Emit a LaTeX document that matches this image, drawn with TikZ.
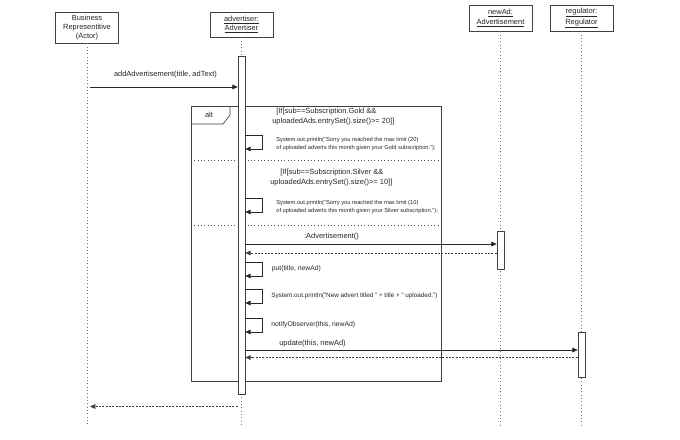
\documentclass[tikz,border=0pt]{standalone}
\usepackage{fontspec}
\setmainfont{Liberation Sans}
\usetikzlibrary{arrows.meta}
\begin{document}
\begin{tikzpicture}[x=0.75pt,y=-0.75pt,line width=0.5pt,
  >={Triangle[length=4pt,width=3.5pt]},
  head/.style={draw=black!75,fill=white,minimum width=47pt,inner sep=0pt,align=center,
    font=\fontsize{5.6}{7}\selectfont,text=black!85},
  activation/.style={draw=black!75,fill=white,minimum width=5.25pt,inner sep=0pt},
  lifeline/.style={draw=black!55,dotted},
  msg/.style={draw=black!85,->},
  ret/.style={draw=black!75,dash pattern=on 1.5pt off 1pt,->},
  lbl/.style={font=\fontsize{5.6}{7}\selectfont,text=black!85,inner sep=0pt},
  callnote/.style={font=\fontsize{5.1}{6}\selectfont,text=black!85,inner sep=0pt,anchor=west},
  tinynote/.style={font=\fontsize{4.3}{6}\selectfont,text=black!85,inner sep=0pt,anchor=west}]
  \useasboundingbox (0,0) rectangle (680,439);

  % lifeline heads
  \node[head,minimum height=23.25pt] (bizrep) at (87,27.5) {Business\\Representitive\\(Actor)};
  \node[head,minimum height=18.75pt] (advertiser) at (241.5,24.5) {\underline{advertiser:}\\\underline{Advertiser}};
  \node[head,minimum height=19.5pt] (newad) at (500.5,18) {\underline{newAd:}\\\underline{Advertisement}};
  \node[head,minimum height=19.5pt] (regulator) at (581.5,18) {\underline{regulator:}\\\underline{Regulator}};

  \draw[lifeline] (bizrep.south) -- ++(0,382);
  \draw[lifeline] (advertiser.south) -- ++(0,388);
  \draw[lifeline] (newad.south) -- ++(0,394);
  \draw[lifeline] (regulator.south) -- ++(0,394);

  % alt frame
  \coordinate (altNW) at (191,106);
  \coordinate (altSE) at (441,381);
  \draw[black!75] (altNW) rectangle (altSE);
  \draw[black!75] (191,124) -- (223,124) -- (230,115) -- (230,106);
  \node[lbl] (alttag) at (209,115) {alt};
  \draw[black!70,dotted] (191,160) -- (441,160);
  \draw[black!70,dotted] (191,225) -- (441,225);

  % activations
  \node[activation,minimum height=253.5pt] (actAdv) at (241.5,225) {};
  \node[activation,minimum height=28.5pt] (actNew) at (500.5,250) {};
  \node[activation,minimum height=33.75pt] (actReg) at (581.5,354.5) {};

  % addAdvertisement
  \coordinate (m1) at (90,87);
  \node[lbl] (m1lbl) at (165.5,75) {addAdvertisement(title, adText)};
  \draw[msg] (m1) -- (m1 -| actAdv.west);

  % gold branch
  \node[lbl,anchor=west] (cond1a) at (276,112) {[If[sub==Subscription.Gold \&\&};
  \node[lbl,anchor=west] (cond1b) at (272,121.5) {uploadedAds.entrySet().size()>= 20]]};
  \coordinate (s1) at (0,135);
  \coordinate (s1b) at (0,149);
  \draw[msg] (actAdv.east |- s1) -- ++(16.5,0) |- (actAdv.east |- s1b);
  \node[tinynote] (note1a) at (276,140) {System.out.println("Sorry you reached the max limit (20)};
  \node[tinynote] (note1b) at (276,148) {of uploaded adverts this month given your Gold subscription.");};

  % silver branch
  \node[lbl,anchor=west] (cond2a) at (280,173) {[If[sub==Subscription.Silver \&\&};
  \node[lbl,anchor=west] (cond2b) at (270,183) {uploadedAds.entrySet().size()>= 10]]};
  \coordinate (s2) at (0,198);
  \coordinate (s2b) at (0,212);
  \draw[msg] (actAdv.east |- s2) -- ++(16.5,0) |- (actAdv.east |- s2b);
  \node[tinynote] (note2a) at (276,203) {System.out.println("Sorry you reached the max limit (10)};
  \node[tinynote] (note2b) at (276,211) {of uploaded adverts this month given your Silver subscription.");};

  % create newAd
  \coordinate (m2) at (0,244);
  \coordinate (r2) at (0,253);
  \node[lbl] (m2lbl) at (331.5,237) {:Advertisement()};
  \draw[msg] (actAdv.east |- m2) -- (actNew.west |- m2);
  \draw[ret] (actNew.west |- r2) -- (actAdv.east |- r2);

  % self calls
  \coordinate (s3) at (0,262);
  \coordinate (s3b) at (0,276);
  \draw[msg] (actAdv.east |- s3) -- ++(16.5,0) |- (actAdv.east |- s3b);
  \node[callnote] (put) at (271.5,269) {put(title, newAd)};
  \coordinate (s4) at (0,289);
  \coordinate (s4b) at (0,303);
  \draw[msg] (actAdv.east |- s4) -- ++(16.5,0) |- (actAdv.east |- s4b);
  \node[tinynote,font=\fontsize{4.75}{6}\selectfont] (println) at (271,296) {System.out.println("New advert titled " + title + " uploaded.")};
  \coordinate (s5) at (0,318);
  \coordinate (s5b) at (0,332);
  \draw[msg] (actAdv.east |- s5) -- ++(16.5,0) |- (actAdv.east |- s5b);
  \node[callnote] (notify) at (271,325) {notifyObserver(this, newAd)};

  % update regulator
  \coordinate (m3) at (0,350);
  \coordinate (r3) at (0,357.5);
  \node[lbl,anchor=west] (m3lbl) at (279,344) {update(this, newAd)};
  \draw[msg] (actAdv.east |- m3) -- (actReg.west |- m3);
  \draw[ret] (actReg.west |- r3) -- (actAdv.east |- r3);

  % return to actor
  \coordinate (r1) at (90,406.5);
  \draw[ret] (actAdv.west |- r1) -- (r1);
\end{tikzpicture}
\end{document}
